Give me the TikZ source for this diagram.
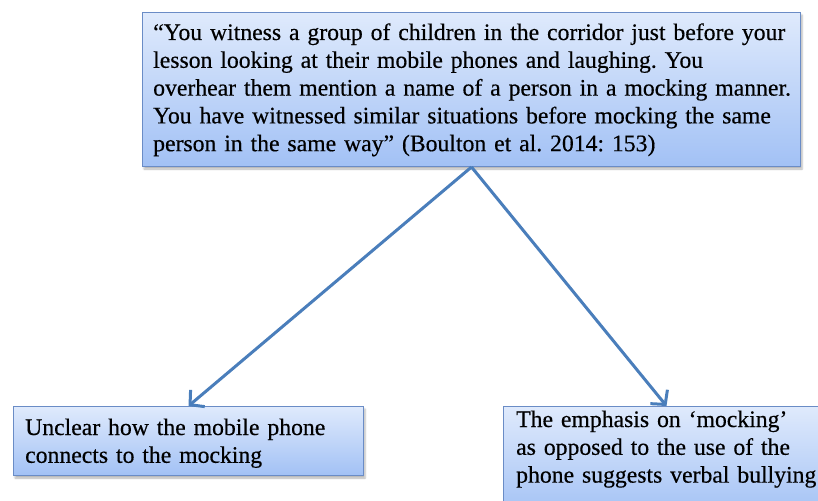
\documentclass[tikz,border=0pt]{standalone}
\usepackage{fontspec}
\setmainfont[FakeBold=0.4]{Liberation Serif}
\frenchspacing
\usetikzlibrary{arrows.meta,shadows.blur}
\definecolor{boxtop}{HTML}{DFEAFC}
\definecolor{boxbot}{HTML}{A2C1F5}
\definecolor{boxline}{HTML}{6A8CC6}
\definecolor{arrowblue}{HTML}{4A7EBB}
\tikzset{
  notebox/.style={draw=boxline, line width=1pt, top color=boxtop, bottom color=boxbot,
    rectangle, inner sep=0pt, anchor=north west,
    blur shadow={shadow xshift=1.5pt, shadow yshift=-2.5pt, shadow opacity=30, shadow blur steps=4}},
  notetext/.style={anchor=base west, inner sep=0pt, text width=700pt, align=left,
    font=\fontsize{23.7}{27.8}\selectfont},
  link/.style={draw=arrowblue, line width=3pt, -{Straight Barb[length=10pt,width=22pt,line width=3pt]}}
}
\begin{document}
\begin{tikzpicture}[x=1pt,y=-1pt]
  \useasboundingbox (0,0) rectangle (818,500);
  \begin{scope}
    \clip (0,0) rectangle (818,500);
    % the quoted scenario
    \node[notebox, minimum width=658pt, minimum height=154pt] (top) at (142,12) {};
    \node[notetext] (toptext) at (153,40) {“You witness a group of children in the corridor just before your\\
      lesson looking at their mobile phones and laughing. You\\
      overhear them mention a name of a person in a mocking manner.\\
      You have witnessed similar situations before mocking the same\\
      person in the same way” (Boulton et al. 2014: 153)};
    % first reading
    \node[notebox, minimum width=350pt, minimum height=69pt] (left) at (13,406) {};
    \node[notetext] (lefttext) at (25,435) {Unclear how the mobile phone\\
      connects to the mocking};
    % second reading
    \node[notebox, minimum width=326pt, minimum height=110pt] (right) at (503,406) {};
    \node[notetext] (righttext) at (516,427) {The emphasis on ‘mocking’\\
      as opposed to the use of the\\
      phone suggests verbal bullying};
  \end{scope}
  \draw[link] (top.south) -- (left.north);
  \draw[link] (top.south) -- (right.north);
\end{tikzpicture}
\end{document}
